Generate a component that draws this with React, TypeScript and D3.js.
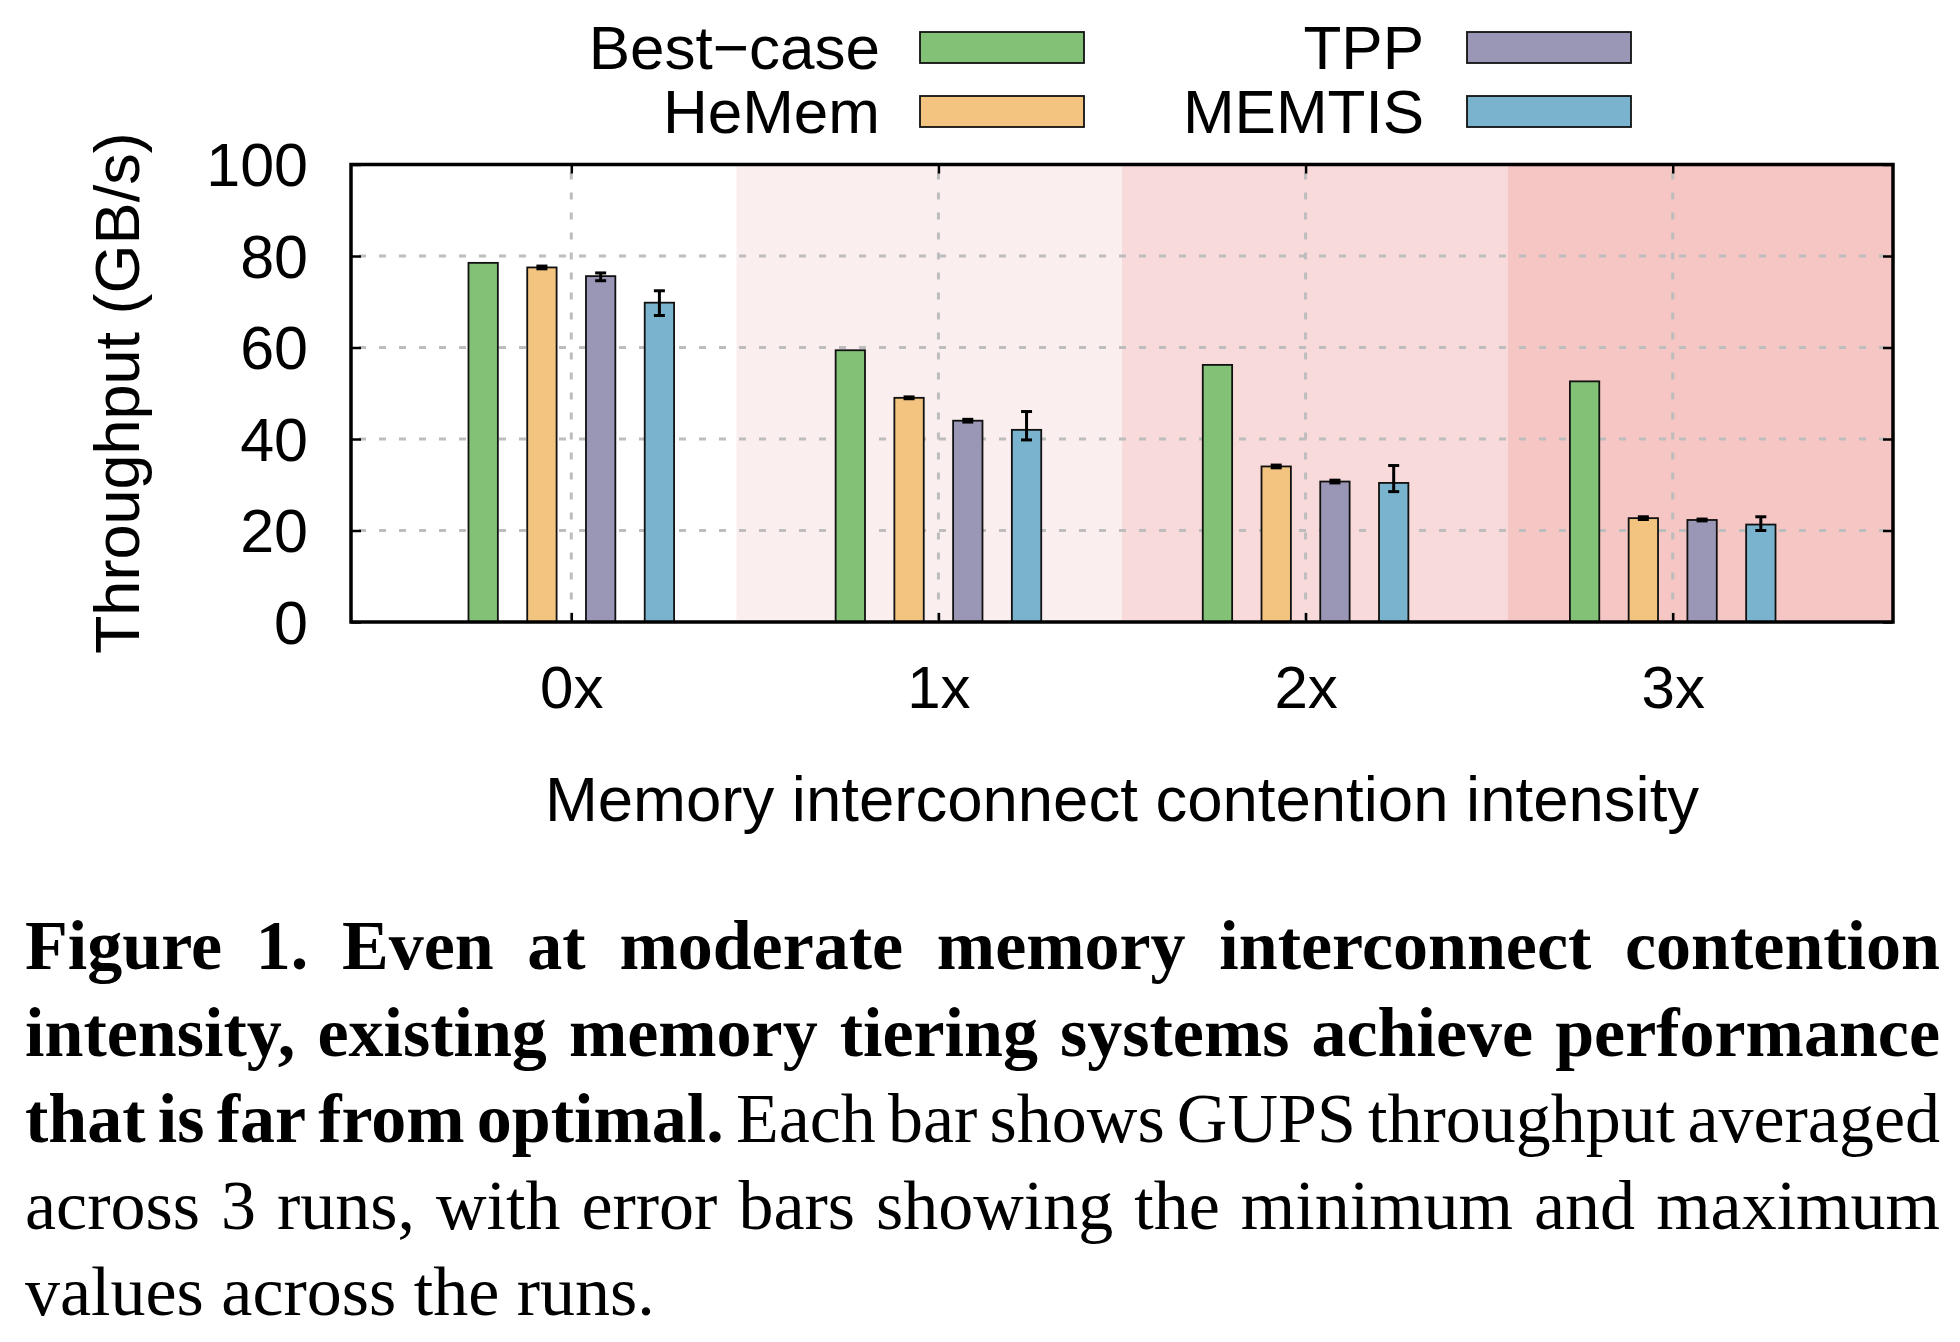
import React, { useEffect, useRef } from "react";
import * as d3 from "d3";

// contention levels on the x axis
const categories = ["0x", "1x", "2x", "3x"];
const seriesNames = ["Best\u2212case", "HeMem", "TPP", "MEMTIS"];

// GB/s, averaged over 3 runs
const bestCase = [78.5, 59.4, 56.2, 52.6];
const hemem = [77.5, 49.0, 34.0, 22.7];
const hememMin = [77.2, 48.8, 33.7, 22.4];
const hememMax = [77.8, 49.2, 34.3, 23.0];
const tpp = [75.6, 44.0, 30.7, 22.3];
const tppMin = [74.6, 43.7, 30.4, 22.1];
const tppMax = [76.3, 44.3, 31.0, 22.5];
const memtis = [69.8, 42.0, 30.4, 21.3];
const memtisMin = [67.0, 39.8, 28.5, 20.0];
const memtisMax = [72.4, 46.0, 34.2, 23.0];

const yTicks = [0, 20, 40, 60, 80, 100];

const seriesColors = ["#82c176", "#f2c480", "#9a97b6", "#7ab3cd"];
// background shading per quarter of the plot, getting redder with contention
const shadeColors = ["#ffffff", "#fbeeee", "#f8dadb", "#f5c6c4"];

const captionLines = [
  [{ text: "Figure 1. Even at moderate memory interconnect contention", bold: true }],
  [{ text: "intensity, existing memory tiering systems achieve performance", bold: true }],
  [
    { text: "that is far from optimal.", bold: true },
    { text: "Each bar shows GUPS throughput averaged", bold: false },
  ],
  [{ text: "across 3 runs, with error bars showing the minimum and maximum", bold: false }],
  [{ text: "values across the runs.", bold: false }],
];

const sans = "'Liberation Sans', Arial, Helvetica, sans-serif";
const serif = "'Liberation Serif', 'Times New Roman', serif";

export default function App() {
  const ref = useRef<SVGSVGElement>(null);

  useEffect(() => {
    const svg = d3.select(ref.current);
    svg.selectAll("*").remove();

    const left = 351;
    const right = 1893;
    const top = 164.5;
    const bottom = 622;

    const series = [
      { name: seriesNames[0], values: bestCase, lo: null, hi: null },
      { name: seriesNames[1], values: hemem, lo: hememMin, hi: hememMax },
      { name: seriesNames[2], values: tpp, lo: tppMin, hi: tppMax },
      { name: seriesNames[3], values: memtis, lo: memtisMin, hi: memtisMax },
    ];

    const x = d3
      .scaleLinear()
      .domain([-0.6, categories.length - 0.4])
      .range([left, right]);
    const y = d3.scaleLinear().domain([0, 100]).range([bottom, top]);
    const inner = d3
      .scaleBand()
      .domain(seriesNames)
      .range([-0.32, 0.32])
      .paddingInner(0.5)
      .paddingOuter(0.25);
    const color = d3.scaleOrdinal<string, string>().domain(seriesNames).range(seriesColors);

    svg.append("rect").attr("width", 1960).attr("height", 1342).attr("fill", "#fff");

    // shaded quarters
    const quarter = (right - left) / shadeColors.length;
    svg
      .append("g")
      .selectAll("rect")
      .data(shadeColors)
      .enter()
      .append("rect")
      .attr("x", (d, i) => left + i * quarter)
      .attr("y", top)
      .attr("width", quarter)
      .attr("height", bottom - top)
      .attr("fill", d => d);

    // grid
    const grid = svg
      .append("g")
      .attr("stroke", "#bdbdbd")
      .attr("stroke-width", 3)
      .attr("stroke-dasharray", "7,13");
    grid
      .selectAll("line.h")
      .data(yTicks.slice(1, -1))
      .enter()
      .append("line")
      .attr("x1", left + 8)
      .attr("x2", right)
      .attr("y1", d => y(d))
      .attr("y2", d => y(d));
    grid
      .selectAll("line.v")
      .data(categories)
      .enter()
      .append("line")
      .attr("x1", (d, i) => x(i))
      .attr("x2", (d, i) => x(i))
      .attr("y1", top + 8)
      .attr("y2", bottom);

    // bars
    series.forEach(s => {
      svg
        .append("g")
        .selectAll("rect")
        .data(s.values)
        .enter()
        .append("rect")
        .attr("x", (d, i) => x(i + (inner(s.name) as number)))
        .attr("width", x(inner.bandwidth()) - x(0))
        .attr("y", d => y(d))
        .attr("height", d => bottom - y(d))
        .attr("fill", color(s.name))
        .attr("stroke", "#111")
        .attr("stroke-width", 1.8);
    });

    // error bars (min / max over runs)
    series.forEach(s => {
      if (!s.lo || !s.hi) return;
      const lo = s.lo;
      const hi = s.hi;
      const g = svg.append("g").attr("stroke", "#000").attr("stroke-width", 3);
      s.values.forEach((v, i) => {
        const cx = x(i + (inner(s.name) as number) + inner.bandwidth() / 2);
        g.append("line").attr("x1", cx).attr("x2", cx).attr("y1", y(lo[i])).attr("y2", y(hi[i]));
        [lo[i], hi[i]].forEach(e => {
          g.append("line")
            .attr("x1", cx - 5.5)
            .attr("x2", cx + 5.5)
            .attr("y1", y(e))
            .attr("y2", y(e));
        });
      });
    });

    // axes with inward ticks, mirrored on top/right
    const styleAxis = (g: any, size: number) => {
      g.select(".domain").remove();
      g.attr("font-family", sans).attr("font-size", size);
      g.selectAll("line").attr("stroke", "#000").attr("stroke-width", 2.5);
      g.selectAll("text").attr("fill", "#000");
    };

    const gy = svg
      .append("g")
      .attr("transform", `translate(${left},0)`)
      .call(d3.axisLeft(y).tickValues(yTicks).tickSize(-10).tickPadding(43));
    styleAxis(gy, 61);
    gy.selectAll("text").attr("dy", "0.35em");

    const gyr = svg
      .append("g")
      .attr("transform", `translate(${right},0)`)
      .call(d3.axisRight(y).tickValues(yTicks).tickSize(-10).tickFormat(() => ""));
    styleAxis(gyr, 61);

    const gx = svg
      .append("g")
      .attr("transform", `translate(0,${bottom})`)
      .call(
        d3
          .axisBottom(x)
          .tickValues(d3.range(categories.length))
          .tickFormat(i => categories[i as number])
          .tickSize(-9)
          .tickPadding(43)
      );
    styleAxis(gx, 60);

    const gxt = svg
      .append("g")
      .attr("transform", `translate(0,${top})`)
      .call(
        d3
          .axisTop(x)
          .tickValues(d3.range(categories.length))
          .tickSize(-9)
          .tickFormat(() => "")
      );
    styleAxis(gxt, 60);

    // frame
    svg
      .append("rect")
      .attr("x", left)
      .attr("y", top)
      .attr("width", right - left)
      .attr("height", bottom - top)
      .attr("fill", "none")
      .attr("stroke", "#000")
      .attr("stroke-width", 3.5);

    // axis titles
    svg
      .append("text")
      .attr("transform", `translate(139,${(top + bottom) / 2}) rotate(-90)`)
      .attr("text-anchor", "middle")
      .attr("font-family", sans)
      .attr("font-size", 63)
      .text("Throughput (GB/s)");
    svg
      .append("text")
      .attr("x", (left + right) / 2)
      .attr("y", 821)
      .attr("text-anchor", "middle")
      .attr("font-family", sans)
      .attr("font-size", 63.5)
      .text("Memory interconnect contention intensity");

    // legend, two columns
    const legendCols = [
      { textEnd: 880, swatch: 920 },
      { textEnd: 1424, swatch: 1467 },
    ];
    const legendRows = [32, 96];
    const legend = svg.append("g").attr("font-family", sans).attr("font-size", 62);
    seriesNames.forEach((name, i) => {
      const col = legendCols[Math.floor(i / 2)];
      const ry = legendRows[i % 2];
      legend
        .append("text")
        .attr("x", col.textEnd)
        .attr("y", ry + 15.5)
        .attr("dy", "0.35em")
        .attr("text-anchor", "end")
        .text(name);
      legend
        .append("rect")
        .attr("x", col.swatch)
        .attr("y", ry)
        .attr("width", 164)
        .attr("height", 31)
        .attr("fill", color(name))
        .attr("stroke", "#111")
        .attr("stroke-width", 1.8);
    });

    // caption, justified word by word
    const capLeft = 25;
    const capRight = 1940;
    const capFont = 70;
    const cap = svg.append("g").attr("font-family", serif).attr("font-size", capFont).attr("fill", "#000");
    captionLines.forEach((line, li) => {
      const words = line.flatMap(seg => seg.text.split(" ").map(w => ({ w, bold: seg.bold })));
      const t = cap.append("text").attr("y", 969 + li * 86.5);
      const spans = words.map(d =>
        t.append("tspan").attr("font-weight", d.bold ? "bold" : "normal").text(d.w)
      );
      const widths = spans.map(s => (s.node() as SVGTSpanElement).getComputedTextLength());
      const total = d3.sum(widths);
      const justify = li < captionLines.length - 1;
      const gap = justify ? (capRight - capLeft - total) / (words.length - 1) : capFont * 0.25;
      let xx = capLeft;
      spans.forEach((s, i) => {
        s.attr("x", xx);
        xx += widths[i] + gap;
      });
    });
  }, []);

  return (
    <svg
      ref={ref}
      width={1960}
      height={1342}
      style={{ position: "absolute", left: 0, top: 0, display: "block" }}
    />
  );
}
